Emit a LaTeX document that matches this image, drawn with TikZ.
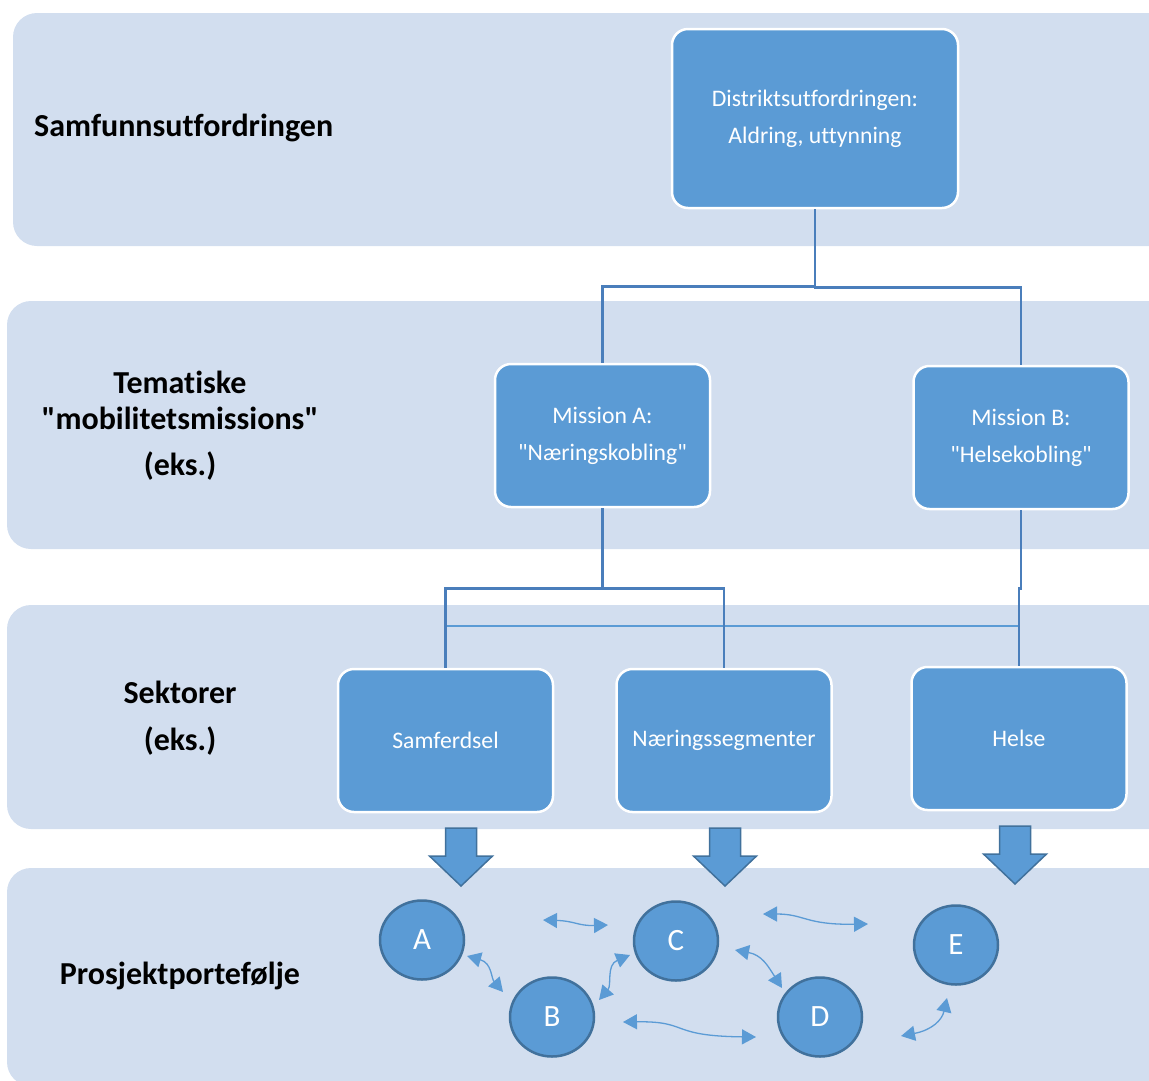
\documentclass[tikz,border=0pt]{standalone}
\usepackage{fontspec}
\setmainfont{Carlito}[Ligatures=NoCommon]
\usepackage{tikz}
\usetikzlibrary{shapes.geometric,arrows.meta}

\definecolor{bandfill}{HTML}{D2DEEF}
\definecolor{boxblue}{HTML}{5B9BD5}
\definecolor{lineblue}{HTML}{4A7EBB}
\definecolor{darkblue}{HTML}{41719C}
\newcommand\qt{\textquotedbl}

\begin{document}
\begin{tikzpicture}[x=1pt, y=-1pt,
    band/.style={fill=bandfill, draw=none, rounded corners=24pt},
    box/.style={draw=white, line width=2.5pt, fill=boxblue, rounded corners=16pt,
      text=white, align=center, inner sep=0pt, minimum width=215pt, minimum height=143pt,
      font=\fontsize{23.7}{37}\selectfont},
    lab/.style={align=center, inner sep=0pt, font=\fontsize{32}{36}\selectfont\bfseries},
    proj/.style={ellipse, draw=darkblue, line width=2.5pt, fill=boxblue, text=white,
      minimum width=84pt, minimum height=79pt, inner sep=0pt, font=\fontsize{31}{31}\selectfont},
    tree/.style={draw=lineblue, line width=2.5pt},
    swap/.style={draw=boxblue, line width=1.3pt,
      {Triangle[length=14pt,width=15pt]}-{Triangle[length=14pt,width=15pt]}}]
    \useasboundingbox (0,0) rectangle (1149,1080);
    \clip (0,0) rectangle (1149,1080);

    % bakgrunnsbånd
    \fill[band] (13,13) rectangle (1175,246);
    \fill[band] (7,301) rectangle (1175,549);
    \fill[band] (7,605) rectangle (1175,829);
    \fill[band] (7,868) rectangle (1175,1086);

    % nivåtekster
    \node[lab, anchor=west] (samfunn) at (34,128) {Samfunnsutfordringen};
    \node[lab] (tema1) at (180,382) {Tematiske};
    \node[lab] (tema2) at (180,418) {\qt mobilitetsmissions\qt};
    \node[lab] (tema3) at (180,466) {(eks.)};
    \node[lab] (sektor1) at (180,692) {Sektorer};
    \node[lab] (sektor2) at (180,741) {(eks.)};
    \node[lab] (portef) at (180,976) {Prosjektportefølje};

    % bokser
    \node[box, minimum width=286pt, minimum height=179pt] (distrikt) at (815,118.5)
      {Distriktsutfordringen:\\Aldring, uttynning};
    \node[box] (misA) at (602.5,435.5) {Mission A:\\\qt Næringskobling\qt};
    \node[box] (misB) at (1021,437.5) {Mission B:\\\qt Helsekobling\qt};
    \node[box] (samf) at (445.5,740.5) {Samferdsel};
    \node[box] (naer) at (724,740.5) {Næringssegmenter};
    \node[box] (helse) at (1019,738.5) {Helse};

    % hierarki
    \coordinate (tverr) at (0,626);
    \draw[draw=boxblue, line width=1.2pt] (samf.north |- tverr) -- (helse.north |- tverr);
    \draw[tree] (distrikt.south) -- ++(0,77) -| (misA.north);
    \draw[tree] (distrikt.south) -- ++(0,78) -| (misB.north);
    \draw[tree] (misA.south) -- ++(0,80) -| (samf.north);
    \draw[tree] (misA.south) -- ++(0,80) -| (naer.north);
    \draw[tree] (misB.south) -- ++(0,78) -| (helse.north);

    % blokkpiler
    \foreach \cx/\ty in {461/828, 725/828, 1015/826}
      \draw[draw=darkblue, line width=1.5pt, fill=boxblue, line join=miter]
        (\cx-15.5,\ty) -- (\cx+15.5,\ty) -- (\cx+15.5,\ty+28) -- (\cx+31.5,\ty+28)
        -- (\cx,\ty+58) -- (\cx-31.5,\ty+28) -- (\cx-15.5,\ty+28) -- cycle;

    % prosjekter
    \node[proj] (pA) at (422,940) {A};
    \node[proj] (pB) at (552,1017) {B};
    \node[proj] (pC) at (676,941) {C};
    \node[proj] (pD) at (820,1017) {D};
    \node[proj] (pE) at (956,945) {E};

    % samspill
    \coordinate (ab0) at (467,956);  \coordinate (ab1) at (503,992);
    \coordinate (ac0) at (543,920);  \coordinate (ac1) at (608,925);
    \coordinate (bc0) at (599,1000); \coordinate (bc1) at (630,955);
    \coordinate (ce0) at (763,914);  \coordinate (ce1) at (868,924);
    \coordinate (cd0) at (735,950);  \coordinate (cd1) at (782,988);
    \coordinate (bd0) at (623,1022); \coordinate (bd1) at (756,1037);
    \coordinate (de0) at (901,1036); \coordinate (de1) at (947,998);
    \draw[swap] (ab0) .. controls (492,963) and (491,978) .. (ab1);
    \draw[swap] (ac0) .. controls (575,921) and (578,926) .. (ac1);
    \draw[swap] (bc0) .. controls (612,985) and (606,965) .. (bc1);
    \draw[swap] (ce0) .. controls (805,914) and (805,925) .. (ce1);
    \draw[swap] (cd0) .. controls (762,955) and (768,966) .. (cd1);
    \draw[swap] (bd0) .. controls (690,1021) and (668,1036) .. (bd1);
    \draw[swap] (de0) .. controls (932,1030) and (942,1020) .. (de1);
\end{tikzpicture}
\end{document}
